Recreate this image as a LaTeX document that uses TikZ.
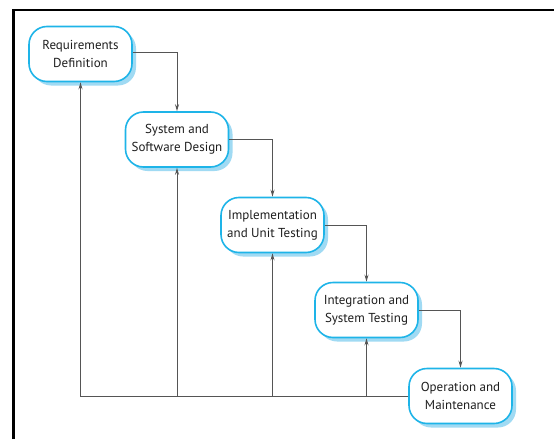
\documentclass[tikz,border=0pt]{standalone}
\usepackage{fontspec}
\setmainfont{PT Sans}
\usepackage{tikz}
\usetikzlibrary{arrows.meta, shadows}
\definecolor{phaseblue}{RGB}{30, 180, 232}
\definecolor{shadeblue}{RGB}{160, 218, 243}
\definecolor{linegray}{RGB}{85, 85, 85}
\definecolor{textgray}{RGB}{30, 30, 30}

\begin{document}
\begin{tikzpicture}[x=1pt, y=-1pt,
    phase/.style={draw=phaseblue, line width=1.6pt, fill=white, rounded corners=18pt,
        minimum width=103pt, minimum height=55pt, align=center, text=textgray,
        font=\fontsize{13}{18}\selectfont,
        drop shadow={shadow xshift=4pt, shadow yshift=-4pt, fill=shadeblue, opacity=1}},
    flow/.style={draw=linegray, line width=1pt, -{Stealth[length=7pt, width=4pt]}}]
    \useasboundingbox (0,0) rectangle (554,439);

    % frame
    \draw[line width=2.2pt] (13.5,439) -- (13.5,10) -- (554,10);

    % phases
    \node[phase] (req) at (80.5,54) {Requirements\\Definition};
    \node[phase] (design) at (177,139.5) {System and\\Software Design};
    \node[phase] (impl) at (272.5,225) {Implementation\\and Unit Testing};
    \node[phase] (integ) at (366.5,310) {Integration and\\System Testing};
    \node[phase] (oper) at (460.5,396) {Operation and\\Maintenance};

    % forward
    \draw[flow] ([yshift=2pt]req.east) -| (design.north);
    \draw[flow] (design.east) -| (impl.north);
    \draw[flow] (impl.east) -| (integ.north);
    \draw[flow] (integ.east) -| (oper.north);

    % feedback
    \coordinate (back) at (oper.west);
    \draw[flow] (back) -- (back -| req.south) -- (req.south);
    \draw[flow] (back -| design.south) -- (design.south);
    \draw[flow] (back -| impl.south) -- (impl.south);
    \draw[flow] (back -| integ.south) -- (integ.south);
\end{tikzpicture}
\end{document}
